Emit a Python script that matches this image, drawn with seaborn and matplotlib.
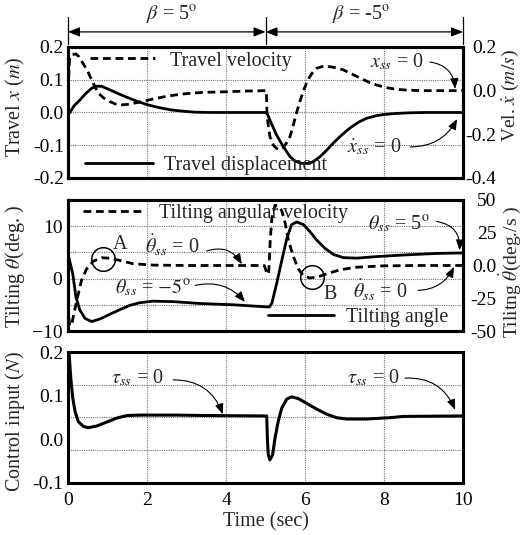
import matplotlib
matplotlib.use('Agg')
import matplotlib.pyplot as plt
import matplotlib.transforms as mtransforms
from matplotlib.ticker import FixedLocator
import numpy as np
import pandas as pd
import seaborn as sns

# travel displacement x (m), left axis of top panel
t_disp = [0, 0.05, 0.15, 0.3, 0.45, 0.6, 0.7, 0.85, 1.06, 1.3, 1.5, 1.75, 2.03, 2.3, 2.6, 2.9, 3.2, 3.6, 4.0, 4.5,
          5.03, 5.11, 5.28, 5.45, 5.62, 5.75, 5.9, 6.05, 6.2, 6.38, 6.55, 6.71, 6.9, 7.13, 7.35, 7.55, 7.8, 8.0, 8.3,
          8.65, 9.0, 9.5, 10.0]
x_disp = [0, 0.0, 0.02, 0.038, 0.058, 0.074, 0.080, 0.080, 0.069, 0.056, 0.046, 0.034, 0.023, 0.015, 0.008, 0.004,
          0.001, 0, 0, 0, 0, -0.023, -0.069, -0.104, -0.135, -0.148, -0.155, -0.156, -0.151, -0.135, -0.115, -0.094,
          -0.072, -0.048, -0.030, -0.018, -0.010, -0.006, -0.003, -0.001, 0, 0, 0]

# travel velocity (m/s), right axis of top panel
t_vel = [0, 0.04, 0.1, 0.2, 0.28, 0.36, 0.43, 0.52, 0.6, 0.68, 0.77, 0.9, 1.06, 1.2, 1.32, 1.5, 1.74, 2.0, 2.23, 2.5,
         2.82, 3.1, 3.42, 4.0, 4.5, 5.02, 5.04, 5.11, 5.2, 5.28, 5.36, 5.45, 5.53, 5.62, 5.7, 5.78, 5.87, 5.96, 6.04,
         6.12, 6.2, 6.29, 6.42, 6.55, 6.75, 6.97, 7.2, 7.4, 7.6, 7.81, 8.05, 8.32, 8.6, 9.0, 10.0]
v_vel = [0, 0.15, 0.165, 0.168, 0.155, 0.13, 0.11, 0.08, 0.049, 0.018, -0.012, -0.033, -0.05, -0.061, -0.066, -0.063,
         -0.055, -0.045, -0.035, -0.026, -0.017, -0.012, -0.008, -0.005, -0.002, 0.0, -0.12, -0.21, -0.25, -0.265,
         -0.27, -0.26, -0.24, -0.21, -0.16, -0.104, -0.05, 0.0, 0.035, 0.064, 0.085, 0.102, 0.110, 0.112, 0.106,
         0.095, 0.075, 0.057, 0.04, 0.026, 0.014, 0.006, 0.002, 0.0, 0.0]

# tilting angle (deg), left axis of middle panel
t_tilt = [0, 0.12, 0.2, 0.3, 0.43, 0.6, 0.81, 1.06, 1.32, 1.57, 1.82, 2.16, 2.67, 3.34, 4.19, 5.04, 5.1, 5.16, 5.28,
          5.41, 5.54, 5.66, 5.79, 5.96, 6.12, 6.29, 6.5, 6.72, 6.97, 7.31, 7.81, 8.49, 9.33, 10.0]
th_tilt = [4.7, 0.9, -3.5, -6.0, -7.6, -8.2, -7.7, -6.8, -5.9, -5.1, -4.6, -4.3, -4.4, -4.75, -5.0, -5.4, -5.4, -4.7,
           -1.0, 3.4, 7.7, 10.3, 10.8, 10.3, 9.0, 7.4, 5.8, 4.6, 4.0, 3.9, 4.2, 4.5, 4.8, 4.9]

# tilting angular velocity (deg/s), right axis of middle panel
t_rate = [0, 0.04, 0.1, 0.22, 0.34, 0.47, 0.64, 0.85, 1.06, 1.32, 1.65, 2.16, 3.0, 4.0, 4.97, 5.04, 5.08, 5.12, 5.16,
          5.24, 5.33, 5.41, 5.5, 5.58, 5.71, 5.83, 5.96, 6.12, 6.29, 6.55, 6.88, 7.31, 7.98, 8.82, 10.0]
w_rate = [-30, -46, -44, -27, -11.5, -2.6, 3.3, 5.9, 5.6, 3.8, 1.3, 0.3, 0.0, 0.0, 0.0, -6.4, -6.4, 20, 36, 46, 45,
          42, 32, 19, 6.4, -2.6, -7.7, -9.5, -9.0, -6.4, -3.3, -1.3, -0.3, 0.0, 0.0]

# control input (N), bottom panel
t_u = [0, 0.03, 0.07, 0.12, 0.18, 0.26, 0.39, 0.51, 0.73, 0.98, 1.23, 1.49, 1.82, 2.75, 3.5, 4.99, 5.03, 5.05, 5.07,
       5.11, 5.18, 5.24, 5.32, 5.41, 5.54, 5.66, 5.83, 6.04, 6.29, 6.55, 6.8, 7.05, 7.56, 8.15, 8.49, 10.0]
u_ctrl = [0.2, 0.193, 0.14, 0.094, 0.063, 0.04, 0.029, 0.026, 0.03, 0.039, 0.048, 0.054, 0.055, 0.055, 0.054, 0.053,
          0.053, -0.006, -0.036, -0.048, -0.036, 0.002, 0.04, 0.071, 0.092, 0.097, 0.093, 0.082, 0.069, 0.057, 0.049,
          0.046, 0.046, 0.049, 0.052, 0.053]

top_left_ticks = [-0.2, -0.1, 0.0, 0.1, 0.2]
top_right_ticks = [-0.4, -0.2, 0.0, 0.2]
mid_left_ticks = [-10, 0, 10]
mid_right_ticks = [-50, -25, 0, 25, 50]
mid_right_labels = ['-50', '-25', '0.0', '25', '50']
bot_ticks = [-0.1, 0.0, 0.1, 0.2]
time_ticks = [0, 2, 4, 6, 8, 10]

sns.set_theme(style='white')
plt.rcParams['font.family'] = ['Liberation Serif', 'DejaVu Serif']
plt.rcParams['mathtext.fontset'] = 'stix'
plt.rcParams['font.size'] = 14

FS = 14.5
DASH = (0, (2.8, 1.7))
GRID = dict(color='#777777', linestyle=(0, (1, 1)), linewidth=0.8)

fig = plt.figure(figsize=(5.26, 5.35), dpi=100)
ax_top = fig.add_axes([0.1293, 0.6673, 0.751, 0.2449])
ax_mid = fig.add_axes([0.1293, 0.3813, 0.751, 0.2449])
ax_bot = fig.add_axes([0.1293, 0.0981, 0.751, 0.2439])
ax_top2 = ax_top.twinx()
ax_mid2 = ax_mid.twinx()


def style(ax, left_pad=3):
    for sp in ax.spines.values():
        sp.set_color('black')
        sp.set_linewidth(2.2)
    ax.tick_params(which='both', length=0, labelsize=14, colors='black')
    ax.tick_params(axis='y', pad=left_pad)
    ax.set_xlim(0, 10)
    ax.set_xticks(time_ticks)


def right_labels(ax):
    ax.tick_params(axis='y', pad=24)
    for lbl in ax.get_yticklabels():
        lbl.set_horizontalalignment('right')


def arrow(ax, start, end, rad):
    ax.annotate('', xy=end, xytext=start,
                arrowprops=dict(arrowstyle='-|>,head_length=0.45,head_width=0.18',
                                connectionstyle='arc3,rad=%s' % rad, color='black', lw=0.8,
                                shrinkA=0, shrinkB=0),
                annotation_clip=False)


# ---------- top panel ----------
sns.lineplot(x=t_disp, y=x_disp, ax=ax_top, color='black', lw=2.0, estimator=None, sort=False)
sns.lineplot(x=t_vel, y=v_vel, ax=ax_top2, color='black', lw=2.0, estimator=None, sort=False, linestyle=DASH)
style(ax_top)
style(ax_top2)
ax_top.set_ylim(-0.2, 0.2)
ax_top.set_yticks(top_left_ticks)
ax_top.set_yticklabels(['%.1f' % v for v in top_left_ticks])
ax_top2.set_ylim(-0.4, 0.2)
ax_top2.set_yticks(top_right_ticks)
ax_top2.set_yticklabels(['%.1f' % v for v in top_right_ticks])
ax_top2.yaxis.set_minor_locator(FixedLocator([0.0]))
ax_top.grid(True, which='major', **GRID)
ax_top2.grid(True, which='minor', axis='y', **GRID)
ax_top.tick_params(labelbottom=False)
ax_top2.tick_params(labelbottom=False)
right_labels(ax_top2)
ax_top.set_ylabel(r'Travel $x$ ($m$)', fontsize=FS)
ax_top.yaxis.set_label_coords(-0.105, 0.54)
ax_top2.set_ylabel(r'Vel. $\dot{x}$ ($m/s$)', fontsize=14)
ax_top2.yaxis.set_label_coords(1.094, 0.63)

leg1 = ax_top2.legend([ax_top2.lines[0]], ['Travel velocity'], loc='center left', bbox_to_anchor=(0.056, 0.893),
                      frameon=False, borderpad=0, borderaxespad=0, handlelength=3.2, handletextpad=0.75, fontsize=FS)
leg2 = ax_top2.legend([ax_top.lines[0]], ['Travel displacement'], loc='center left', bbox_to_anchor=(0.043, 0.099),
                      frameon=False, borderpad=0, borderaxespad=0, handlelength=3.4, handletextpad=0.5, fontsize=FS)
ax_top2.add_artist(leg1)

ax_top.text(7.65, 0.154, r'$x_{ss}$ = 0', fontsize=FS, ha='left', va='center')
arrow(ax_top, (9.16, 0.154), (9.8, 0.072), -0.4)
ax_top.text(7.06, -0.105, r'$\dot{x}_{ss}$ = 0', fontsize=FS, ha='left', va='center')
arrow(ax_top, (8.66, -0.105), (9.85, -0.02), 0.3)

trans = mtransforms.blended_transform_factory(ax_top.transData, ax_top.transAxes)
for a, b in [(0, 5), (5, 10)]:
    ax_top.annotate('', xy=(a, 1.115), xytext=(b, 1.115), xycoords=trans, textcoords=trans,
                    arrowprops=dict(arrowstyle='<|-|>,head_length=0.5,head_width=0.2', color='black', lw=0.9,
                                    shrinkA=0, shrinkB=0),
                    annotation_clip=False)
for xv in [0, 5, 10]:
    ax_top.plot([xv, xv], [1.02, 1.23], transform=trans, clip_on=False, color='black', lw=0.9)
ax_top.text(2.63, 1.244, r'$\beta$ = 5$^{\mathrm{o}}$', transform=trans, fontsize=FS, ha='center', va='center')
ax_top.text(7.42, 1.244, r'$\beta$ = -5$^{\mathrm{o}}$', transform=trans, fontsize=FS, ha='center', va='center')

# ---------- middle panel ----------
sns.lineplot(x=t_tilt, y=th_tilt, ax=ax_mid, color='black', lw=2.0, estimator=None, sort=False)
sns.lineplot(x=t_rate, y=w_rate, ax=ax_mid2, color='black', lw=2.0, estimator=None, sort=False, linestyle=DASH)
style(ax_mid, left_pad=4)
style(ax_mid2)
ax_mid.set_ylim(-10, 15)
ax_mid.set_yticks(mid_left_ticks)
ax_mid.yaxis.set_minor_locator(FixedLocator([-5, 5]))
ax_mid2.set_ylim(-50, 50)
ax_mid2.set_yticks(mid_right_ticks)
ax_mid2.set_yticklabels(mid_right_labels)
ax_mid.grid(True, which='both', **GRID)
ax_mid.tick_params(labelbottom=False)
ax_mid2.tick_params(labelbottom=False)
right_labels(ax_mid2)
ax_mid.set_ylabel(r'Tilting $\theta$(deg. )', fontsize=FS)
ax_mid.yaxis.set_label_coords(-0.105, 0.49)
ax_mid2.set_ylabel(r'Tilitng $\dot{\theta}$(deg./s )', fontsize=14)
ax_mid2.yaxis.set_label_coords(1.086, 0.45)

leg3 = ax_mid2.legend([ax_mid2.lines[0]], ['Tilting angular velocity'], loc='center left',
                      bbox_to_anchor=(0.038, 0.90), frameon=False, borderpad=0, borderaxespad=0,
                      handlelength=3.1, handletextpad=0.65, fontsize=FS)
leg4 = ax_mid2.legend([ax_mid.lines[0]], ['Tilting angle'], loc='center left', bbox_to_anchor=(0.506, 0.10),
                      frameon=False, borderpad=0, borderaxespad=0, handlelength=3.3, handletextpad=0.6, fontsize=FS)
ax_mid2.add_artist(leg3)

ax_mid.plot([0.88], [3.7], marker='o', ms=17, mfc='none', mec='black', mew=1.1, ls='none')
ax_mid.plot([6.17], [0.25], marker='o', ms=17, mfc='none', mec='black', mew=1.1, ls='none')
ax_mid.text(1.32, 6.6, 'A', fontsize=FS, ha='center', va='center')
ax_mid.text(6.63, -3.0, 'B', fontsize=FS, ha='center', va='center')
ax_mid.text(1.95, 6.2, r'$\dot{\theta}_{ss}$ = 0', fontsize=FS, ha='left', va='center')
arrow(ax_mid, (3.51, 5.25), (4.4, 2.75), -0.4)
ax_mid.text(1.19, -1.9, r'$\theta_{ss}$ = $-5^{\mathrm{o}}$', fontsize=FS, ha='left', va='center')
arrow(ax_mid, (3.22, -1.3), (4.48, -4.45), -0.3)
ax_mid.text(7.6, 10.3, r'$\theta_{ss}$ = 5$^{\mathrm{o}}$', fontsize=FS, ha='left', va='center')
arrow(ax_mid, (9.33, 10.9), (9.91, 5.4), -0.45)
ax_mid.text(7.22, -2.25, r'$\dot{\theta}_{ss}$ = 0', fontsize=FS, ha='left', va='center')
arrow(ax_mid, (8.86, -2.25), (9.77, 2.25), 0.3)

# ---------- bottom panel ----------
sns.lineplot(x=t_u, y=u_ctrl, ax=ax_bot, color='black', lw=2.2, estimator=None, sort=False)
style(ax_bot, left_pad=3.5)
ax_bot.set_ylim(-0.1, 0.2)
ax_bot.set_yticks(bot_ticks)
ax_bot.set_yticklabels(['%.1f' % v for v in bot_ticks])
ax_bot.yaxis.set_minor_locator(FixedLocator([-0.025, 0.05, 0.125]))
ax_bot.grid(True, which='major', axis='x', **GRID)
ax_bot.grid(True, which='minor', axis='y', **GRID)
ax_bot.tick_params(axis='x', pad=7)
ax_bot.set_xlabel('Time (sec)', fontsize=FS, labelpad=2)
ax_bot.set_ylabel(r'Control input ($N$)', fontsize=FS)
ax_bot.yaxis.set_label_coords(-0.105, 0.47)

ax_bot.text(1.1, 0.14, r'$\tau_{ss}$ = 0', fontsize=FS, ha='left', va='center')
arrow(ax_bot, (2.66, 0.136), (3.92, 0.057), -0.35)
ax_bot.text(7.05, 0.14, r'$\tau_{ss}$ = 0', fontsize=FS, ha='left', va='center')
arrow(ax_bot, (8.53, 0.14), (9.8, 0.067), -0.35)

fig.savefig('out.png', dpi=100)
